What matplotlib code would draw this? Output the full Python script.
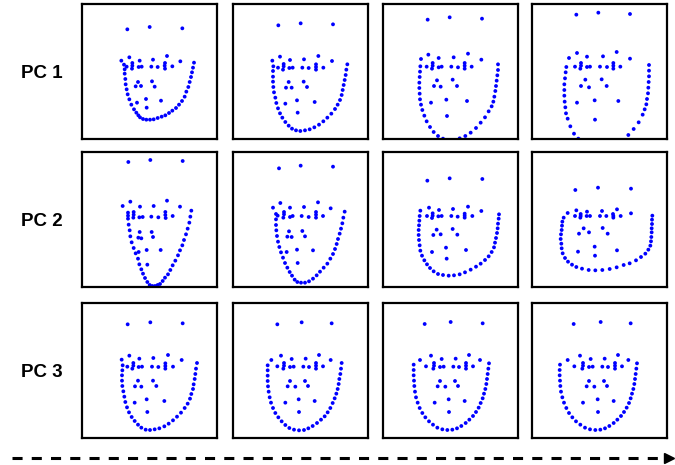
import numpy as np
import matplotlib
matplotlib.use("Agg")
import matplotlib.pyplot as plt
from matplotlib.lines import Line2D

# ---- data: landmark coordinates per panel (panel-local units, y downward) ----
row_labels = ["PC 1", "PC 2", "PC 3"]

pc1_s1 = np.array([
    (143,87),(210,80),(308,84),
    (149,171),(262,167),(125,181),(180,181),(220,178),(302,183),
    (133,193),(141,199),(158,188),(158,196),(157,205),(177,200),(186,199),(215,199),(234,200),
    (256,188),(255,196),(256,205),(278,198),
    (135,207),(135,220),(137,236),(138,252),(141,267),(144,282),(149,297),(155,313),(163,327),
    (170,337),(176,345),(181,351),(190,356),(200,358),(211,358),(222,357),(234,353),(246,349),
    (257,345),(268,338),(278,331),(289,323),(298,313),(307,302),(315,289),(320,274),(326,260),
    (330,245),(334,230),(337,216),(340,202),(343,187),
    (175,245),(217,243),(168,258),(184,257),(225,259),(172,307),(199,296),(244,301),(201,322)])

pc1_s2 = np.array([
    (143,75),(210,69),(307,72),
    (148,169),(263,167),(125,181),(178,179),(220,177),(304,182),
    (128,198),(142,202),(159,191),(159,198),(157,208),(176,203),(186,202),(215,202),(234,203),
    (256,192),(256,200),(256,208),(278,202),
    (127,212),(127,229),(127,244),(128,260),(130,276),(134,292),(137,308),(142,324),(148,339),
    (155,352),(164,365),(174,376),(184,385),(196,390),(209,392),(223,390),(237,387),(251,381),
    (265,373),(278,363),(290,352),(302,340),(313,326),(321,313),(328,299),(333,284),(336,269),
    (339,254),(342,239),(345,224),(347,208),(350,192),
    (174,245),(219,244),(166,262),(183,262),(229,260),(164,310),(199,300),(252,305),(201,337)])

pc1_s3 = np.array([
    (141,58),(207,51),(304,55),
    (143,163),(262,160),(121,176),(174,173),(219,171),(302,178),
    (138,199),(156,188),(156,196),(154,205),(174,201),(183,199),(212,199),(232,201),
    (252,188),(252,196),(252,205),(273,199),
    (119,198),(118,214),(117,230),(116,247),(116,263),(117,280),(118,297),(121,313),(125,329),
    (131,346),(138,363),(148,380),(159,395),(172,407),(187,415),(205,419),(221,419),
    (237,414),(254,407),(270,397),(286,383),(300,367),(313,351),(324,333),(333,318),(338,304),
    (341,289),(344,272),(346,257),(348,241),(350,225),(352,209),(352,192),
    (169,240),(216,238),(160,257),(180,259),(229,257),(151,307),(197,298),(259,302),(199,347)])

pc1_s4 = np.array([
    (140,43),(206,37),(301,41),
    (142,158),(261,155),(118,173),(172,169),(220,168),(301,175),
    (136,199),(154,188),(154,196),(152,205),(172,200),(181,199),(211,199),(232,200),
    (251,188),(251,196),(251,205),(272,199),
    (110,200),(108,216),(106,234),(104,252),(104,269),(104,286),(105,304),(107,321),(109,339),
    (114,355),(122,378),(133,400),(146,415),
    (296,404),(312,386),(327,366),(339,343),(345,327),(350,312),(352,296),(355,279),(356,262),
    (357,245),(358,228),(358,211),(358,194),
    (167,238),(216,237),(154,257),(178,261),(231,257),(142,307),(195,300),(266,302),(196,358)])

pc2_s1 = np.array([
    (146,41),(212,35),(309,38),
    (152,160),(262,157),(129,173),(181,175),(222,173),(301,175),
    (145,193),(145,202),(145,211),(162,191),(162,199),(161,208),(179,207),(189,206),(215,205),
    (236,207),(257,191),(257,200),(258,209),(279,203),
    (147,229),(150,246),(152,264),(156,282),(162,299),(168,315),(175,331),(179,348),(185,363),
    (190,376),(196,389),(203,401),(210,410),(218,413),(226,413),(234,410),(241,407),(249,398),
    (256,388),(265,378),(272,365),(279,351),(287,337),(295,321),(301,306),(308,291),(313,275),
    (319,258),(324,241),(329,223),(332,205),(335,187),
    (180,251),(216,251),(176,268),(185,270),(220,266),(177,311),(201,305),(243,305),(203,349)])

pc2_s2 = np.array([
    (145,60),(210,52),(307,55),
    (149,164),(262,162),(127,178),(178,178),(220,176),(300,180),
    (136,197),(141,202),(160,191),(160,198),(158,208),(178,206),(186,203),(213,203),(234,206),
    (256,191),(256,199),(256,208),(277,203),
    (136,213),(136,230),(137,246),(139,263),(142,280),(146,296),(151,312),(157,328),(163,344),
    (170,358),(177,371),(184,382),(192,394),(200,401),(211,403),(223,403),(235,399),(247,391),
    (258,381),(268,370),(279,358),(290,346),(299,331),(307,317),(313,302),(318,287),(322,272),
    (327,256),(331,241),(335,225),(338,208),(342,190),
    (175,249),(215,248),(170,265),(183,266),(223,264),(168,311),(199,304),(247,306),(201,344)])

pc2_s3 = np.array([
    (140,97),(207,90),(305,92),
    (145,178),(262,175),(119,187),(175,185),(217,182),(302,188),
    (139,203),(156,195),(156,202),(154,209),(173,204),(183,203),(212,203),(231,205),
    (252,196),(252,202),(252,208),(275,203),
    (117,203),(116,217),(115,231),(114,245),(114,260),(115,275),(117,291),(119,307),(124,322),
    (131,336),(139,348),(148,359),(159,369),(172,377),(187,380),(204,382),(220,381),(237,378),
    (253,372),(270,364),(286,355),(300,346),(313,335),(324,324),(333,311),(340,297),(343,283),
    (346,269),(349,254),(351,240),(352,226),(354,211),(355,198),
    (168,244),(216,242),(158,260),(180,258),(230,259),(154,311),(196,298),(256,305),(198,331)])

pc2_s4 = np.array([
    (137,125),(205,118),(304,121),
    (140,186),(262,183),(114,194),(172,190),(217,188),(304,195),
    (136,203),(153,197),(153,203),(152,208),(171,203),(181,203),(211,203),(230,203),
    (250,197),(251,203),(251,208),(273,203),
    (102,208),(98,220),(97,232),(96,245),(94,258),(93,272),(95,286),(96,300),(99,315),
    (106,329),(115,340),(127,349),(140,356),(157,361),(177,365),(197,366),(218,365),(240,362),
    (261,357),(282,350),(300,345),(319,336),(334,326),(347,316),(356,304),(362,292),(364,279),
    (365,266),(366,252),(366,240),(367,227),(367,214),(368,202),
    (162,240),(219,239),(148,256),(178,252),(234,256),(145,310),(195,295),(262,306),(196,322)])

pc3_s1 = np.array([
    (144,75),(212,69),(309,72),
    (149,169),(265,167),(126,181),(179,178),(221,176),(306,182),
    (129,198),(143,202),(161,191),(161,199),(158,208),(177,203),(187,202),(217,202),(236,203),
    (257,192),(257,200),(257,208),(280,202),
    (128,213),(127,228),(127,244),(128,260),(131,276),(134,292),(137,308),(142,324),(148,339),
    (156,353),(165,365),(175,376),(185,385),(198,391),(211,392),(225,390),(239,387),(254,381),
    (267,373),(280,363),(292,352),(304,340),(315,326),(324,313),(331,298),(335,284),(340,269),
    (342,255),(345,239),(347,224),(349,208),(352,191),
    (175,244),(220,244),(166,261),(185,262),(230,260),(165,310),(201,300),(254,305),(203,338)])

pc3_s2 = np.array([
    (140,75),(213,69),(303,72),
    (151,169),(265,167),(122,182),(183,179),(225,178),(300,182),
    (140,201),(160,191),(160,199),(158,208),(178,203),(189,202),(218,202),(235,203),
    (256,191),(256,199),(256,208),(277,201),
    (111,198),(111,213),(111,229),(111,245),(112,261),(114,277),(117,294),(121,310),(127,326),
    (134,341),(143,354),(153,366),(164,377),(176,386),(190,391),(205,393),(220,392),(233,387),
    (246,380),(259,371),(271,361),(282,351),(291,339),(299,326),(306,311),(312,297),(317,283),
    (321,269),(324,254),(326,239),(329,224),(331,208),(333,191),
    (178,245),(223,245),(171,261),(194,262),(232,260),(164,310),(204,300),(252,305),(205,338)])

pc3_s3 = np.array([
    (132,74),(210,68),(306,72),
    (151,169),(265,167),(118,182),(183,179),(225,178),(298,182),
    (136,201),(160,191),(160,199),(158,208),(178,203),(189,202),(218,202),(235,203),
    (256,191),(256,199),(256,208),(277,201),
    (99,196),(99,212),(99,228),(100,244),(101,260),(103,277),(106,294),(111,310),(117,326),
    (125,341),(134,354),(145,366),(157,376),(170,385),(185,390),(200,392),(215,391),(229,387),
    (242,380),(255,371),(266,361),(277,350),(286,338),(294,325),(300,311),(306,297),(310,283),
    (314,269),(317,254),(319,239),(321,224),(323,208),(325,192),
    (178,245),(223,245),(171,261),(194,262),(232,260),(162,310),(204,300),(252,305),(205,338)])

pc3_s4 = np.array([
    (132,74),(213,68),(303,72),
    (151,169),(265,167),(114,182),(183,179),(225,178),(296,182),
    (134,201),(160,191),(160,199),(158,208),(178,203),(189,202),(218,202),(235,203),
    (256,191),(256,199),(256,208),(277,201),
    (91,196),(90,212),(90,228),(91,244),(92,260),(94,277),(98,294),(103,310),(110,326),
    (118,341),(128,354),(139,366),(152,376),(166,385),(181,390),(197,392),(212,391),(226,387),
    (239,380),(252,371),(263,361),(274,350),(283,338),(291,325),(298,311),(303,297),(307,283),
    (311,269),(314,254),(316,239),(318,224),(320,208),(322,192),
    (178,245),(223,245),(171,261),(194,262),(232,260),(160,310),(204,300),(252,305),(205,338)])

panels = [[pc1_s1, pc1_s2, pc1_s3, pc1_s4],
          [pc2_s1, pc2_s2, pc2_s3, pc2_s4],
          [pc3_s1, pc3_s2, pc3_s3, pc3_s4]]

# ---- layout ----
W, H = 675, 465
fig = plt.figure(figsize=(W / 100, H / 100), dpi=100)
col_left = [82, 233, 383, 532]
row_top = [4, 152, 303]
box = 135

for r in range(3):
    for c in range(4):
        ax = fig.add_axes([col_left[c] / W, 1 - (row_top[r] + box) / H, box / W, box / H])
        pts = panels[r][c]
        ax.scatter(pts[:, 0], pts[:, 1], s=7.5, c="#0000ff", edgecolors="none")
        ax.set_xlim(7, 412)
        ax.set_ylim(416, 11)
        ax.set_xticks([])
        ax.set_yticks([])
        for sp in ax.spines.values():
            sp.set_linewidth(1.6)
            sp.set_color("black")
    fig.text(42 / W, 1 - (row_top[r] + 69) / H, row_labels[r], ha="center", va="center",
             fontsize=13.5, fontweight="bold", family=["Liberation Sans", "DejaVu Sans"])

# dashed arrow
ay = 1 - 458 / H
fig.add_artist(Line2D([12 / W, 666 / W], [ay, ay], transform=fig.transFigure,
                      color="black", lw=2.2, linestyle=(0, (3.3, 3.0))))
fig.add_artist(Line2D([669 / W], [ay], transform=fig.transFigure, marker=">",
                      markersize=7.5, color="black", lw=0))

fig.savefig("out.png", dpi=100)
